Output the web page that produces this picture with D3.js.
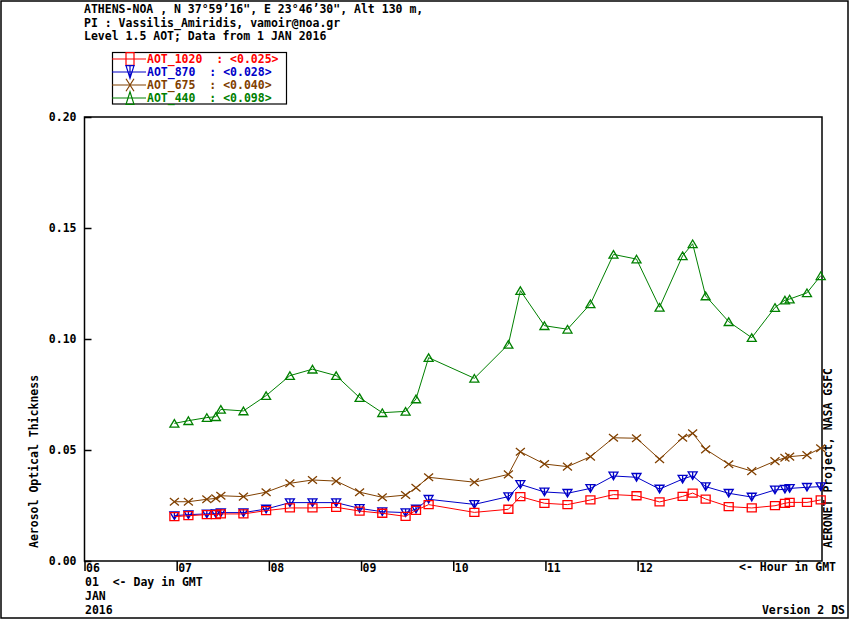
<!DOCTYPE html>
<html>
<head>
<meta charset="utf-8">
<script src="https://cdn.jsdelivr.net/npm/d3@7"></script>
<style>
  body { margin: 0; background: #fff; }
  text { font-family: "DejaVu Sans Mono", "Liberation Mono", monospace; font-weight: bold; font-size: 11.5px; white-space: pre; }
</style>
</head>
<body>
<div id="chart"></div>
<script>
// hours in GMT on 2016-01-01
var hours = [6.975, 7.127, 7.327, 7.425, 7.479, 7.724, 7.97, 8.228, 8.473, 8.73, 8.984, 9.23, 9.483, 9.596, 9.733,
  10.229, 10.598, 10.728, 10.989, 11.239, 11.488, 11.738, 11.988, 12.238, 12.488, 12.597, 12.738, 12.988,
  13.238, 13.49, 13.598, 13.649, 13.837, 13.986];

var aot1020 = [0.0200, 0.0204, 0.0209, 0.0209, 0.0212, 0.0212, 0.0227, 0.0239, 0.0239, 0.0242, 0.0225, 0.0215, 0.0201, 0.0228, 0.0254,
  0.0219, 0.0233, 0.0290, 0.0260, 0.0254, 0.0275, 0.0299, 0.0294, 0.0266, 0.0291, 0.0306, 0.0279, 0.0245,
  0.0239, 0.0249, 0.0260, 0.0264, 0.0264, 0.0275];
var aot870 = [0.0204, 0.0209, 0.0212, 0.0213, 0.0218, 0.0218, 0.0234, 0.0263, 0.0263, 0.0263, 0.0237, 0.0222, 0.0218, 0.0234, 0.0278,
  0.0255, 0.0290, 0.0345, 0.0311, 0.0305, 0.0327, 0.0383, 0.0377, 0.0324, 0.0369, 0.0384, 0.0335, 0.0305,
  0.0288, 0.0320, 0.0323, 0.0327, 0.0332, 0.0335];
var aot675 = [0.0267, 0.0267, 0.0278, 0.0282, 0.0294, 0.0290, 0.0310, 0.0350, 0.0365, 0.0360, 0.0310, 0.0287, 0.0297, 0.0330, 0.0377,
  0.0355, 0.0390, 0.0492, 0.0437, 0.0425, 0.0470, 0.0555, 0.0553, 0.0459, 0.0555, 0.0575, 0.0503, 0.0436,
  0.0405, 0.0450, 0.0465, 0.0470, 0.0477, 0.0508];
var aot440 = [0.0620, 0.0632, 0.0646, 0.0650, 0.0683, 0.0676, 0.0745, 0.0835, 0.0864, 0.0835, 0.0736, 0.0668, 0.0674, 0.0730, 0.0916,
  0.0823, 0.0976, 0.1218, 0.1060, 0.1044, 0.1158, 0.1381, 0.1360, 0.1143, 0.1375, 0.1429, 0.1194, 0.1078,
  0.1006, 0.1142, 0.1175, 0.1180, 0.1208, 0.1285];

var seriesNames = ["AOT_1020", "AOT_870", "AOT_675", "AOT_440"];
var seriesMeans = ["0.025", "0.028", "0.040", "0.098"];
var seriesColors = ["#ff0000", "#0000c8", "#804000", "#008000"];
var seriesMarkers = ["square", "tridown", "cross", "triup"];
var seriesValues = [aot1020, aot870, aot675, aot440];

var yTicks = [0, 0.05, 0.10, 0.15, 0.20];
var xTicks = [6, 7, 8, 9, 10, 11, 12];

var headerLines = [
  "ATHENS-NOA , N 37\u00b059\u201916\", E 23\u00b046\u201930\", Alt 130 m,",
  "PI : Vassilis_Amiridis, vamoir@noa.gr",
  "Level 1.5 AOT; Data from 1 JAN 2016"
];

var width = 850, height = 620;
var plot = {left: 84.5, right: 822, top: 117, bottom: 561};

var svg = d3.select("#chart").append("svg")
    .attr("width", width)
    .attr("height", height);

// outer frame
svg.append("rect")
    .attr("x", 1).attr("y", 1)
    .attr("width", 847).attr("height", 617)
    .attr("fill", "none").attr("stroke", "#000").attr("stroke-width", 1.5);

var x = d3.scaleLinear().domain([6, 14]).range([plot.left, plot.right]);
var y = d3.scaleLinear().domain([0, 0.2]).range([plot.bottom, plot.top]);

// header
svg.selectAll("text.header")
    .data(headerLines)
    .enter().append("text")
    .attr("class", "header")
    .attr("x", 84)
    .attr("y", function(d, i) { return 13 + i * 13.5; })
    .text(function(d) { return d; });

// axes
var yAxis = d3.axisLeft(y)
    .tickValues(yTicks)
    .tickSize(-7)
    .tickPadding(8)
    .tickFormat(d3.format(".2f"));

svg.append("g")
    .attr("transform", "translate(" + plot.left + ",0)")
    .call(yAxis)
    .call(function(g) {
      g.select(".domain").remove();
      g.selectAll("line").attr("stroke-width", 1.5);
      g.selectAll("text").attr("font-size", null).attr("font-family", null).attr("fill", "#000");
    });

var xAxis = d3.axisBottom(x)
    .tickValues(xTicks)
    .tickSize(10)
    .tickFormat(d3.format("02d"));

svg.append("g")
    .attr("transform", "translate(0," + plot.bottom + ")")
    .call(xAxis)
    .call(function(g) {
      g.select(".domain").remove();
      g.selectAll("line").attr("stroke-width", 1.5);
      g.selectAll("text")
        .attr("font-size", null).attr("font-family", null).attr("fill", "#000")
        .attr("text-anchor", "start")
        .attr("x", 1)
        .attr("y", 10.5)
        .attr("dy", null);
    });

// plot box
svg.append("rect")
    .attr("x", plot.left).attr("y", plot.top)
    .attr("width", plot.right - plot.left).attr("height", plot.bottom - plot.top)
    .attr("fill", "none").attr("stroke", "#000").attr("stroke-width", 1.5);

// axis captions
svg.append("text").attr("x", 85).attr("y", 586).text("01  <- Day in GMT");
svg.append("text").attr("x", 85).attr("y", 600).text("JAN");
svg.append("text").attr("x", 85).attr("y", 614).text("2016");
svg.append("text").attr("x", 836).attr("y", 571).attr("text-anchor", "end").text("<- Hour in GMT");
svg.append("text").attr("x", 845).attr("y", 614).attr("text-anchor", "end").text("Version 2 DS");

svg.append("text")
    .attr("transform", "translate(38,548) rotate(-90)")
    .text("Aerosol Optical Thickness");
svg.append("text")
    .attr("transform", "translate(832,548) rotate(-90)")
    .text("AERONET Project, NASA GSFC");

// marker shapes, size s = half width
function markerPath(type, s, h) {
  h = h || s;
  if (type == "square") return "M" + (-s) + "," + (-h) + "H" + s + "V" + h + "H" + (-s) + "Z";
  if (type == "triup") return "M0," + (-h) + "L" + s + "," + h + "H" + (-s) + "Z";
  if (type == "tridown") return "M" + (-s) + "," + (-h) + "H" + s + "L0," + h + "Z" + "M0," + (-h) + "V" + h;
  if (type == "cross") return "M" + (-s) + "," + (-h) + "L" + s + "," + h + "M" + s + "," + (-h) + "L" + (-s) + "," + h;
}

var line = d3.line()
    .x(function(d) { return x(d[0]); })
    .y(function(d) { return y(d[1]); });

// draw green first so red sits on top
for (var k = seriesValues.length - 1; k >= 0; k--) {
  var pts = hours.map(function(h, i) { return [h, seriesValues[k][i]]; });
  var g = svg.append("g").attr("class", "series");
  g.append("path")
      .datum(pts)
      .attr("d", line)
      .attr("fill", "none")
      .attr("stroke", seriesColors[k])
      .attr("stroke-width", 1);
  g.selectAll("path.mark")
      .data(pts)
      .enter().append("path")
      .attr("class", "mark")
      .attr("transform", function(d) { return "translate(" + x(d[0]) + "," + y(d[1]) + ")"; })
      .attr("d", markerPath(seriesMarkers[k], 4.5, seriesMarkers[k] == "square" ? 4 : 3.8))
      .attr("fill", "none")
      .attr("stroke", seriesColors[k])
      .attr("stroke-width", 1.3);
}

// legend
var legend = svg.append("g").attr("class", "legend");
legend.append("rect")
    .attr("x", 112.5).attr("y", 52.5)
    .attr("width", 174).attr("height", 51.5)
    .attr("fill", "#fff").attr("stroke", "#000").attr("stroke-width", 1.2);

var legendItems = legend.selectAll("g.item")
    .data(seriesNames)
    .enter().append("g")
    .attr("class", "item")
    .attr("transform", function(d, i) { return "translate(0," + (59 + i * 13) + ")"; });

legendItems.append("line")
    .attr("x1", 112).attr("x2", 146)
    .attr("y1", 0).attr("y2", 0)
    .attr("stroke", function(d, i) { return seriesColors[i]; })
    .attr("stroke-width", 1.2);

legendItems.append("path")
    .attr("transform", "translate(130,0)")
    .attr("d", function(d, i) { return markerPath(seriesMarkers[i], 4, 6.3); })
    .attr("fill", "none")
    .attr("stroke", function(d, i) { return seriesColors[i]; })
    .attr("stroke-width", 1.2);

legendItems.append("text")
    .attr("x", 147)
    .attr("y", 4)
    .attr("fill", function(d, i) { return seriesColors[i]; })
    .text(function(d, i) { return d + "  : <" + seriesMeans[i] + ">"; });
</script>
</body>
</html>
